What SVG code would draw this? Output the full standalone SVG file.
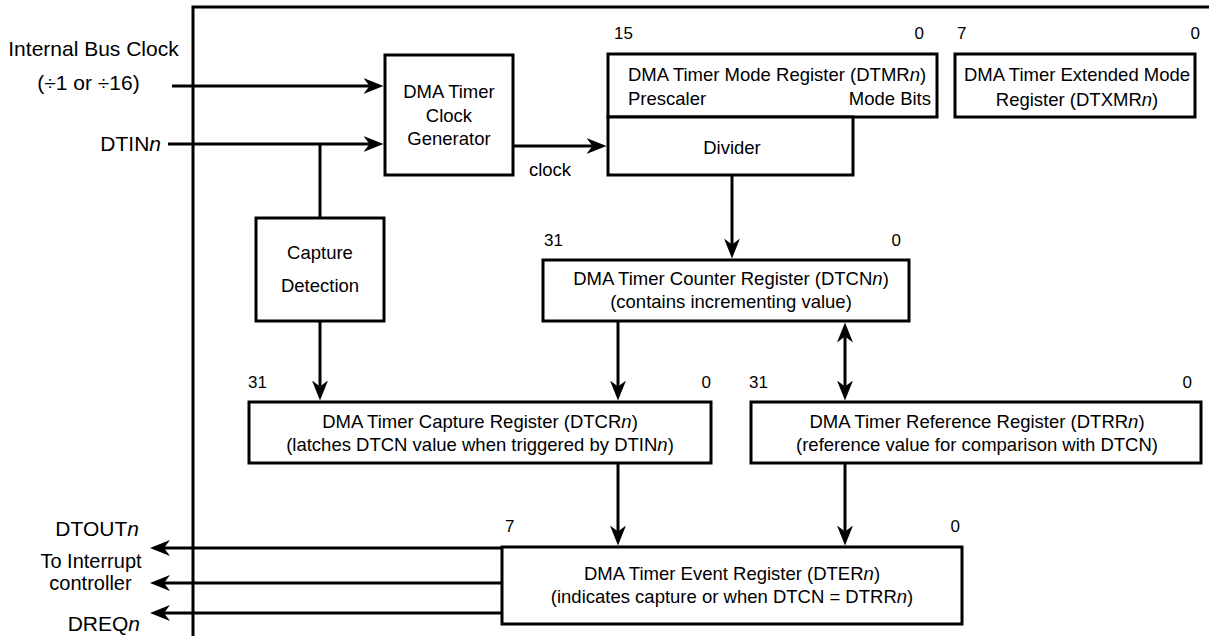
<svg xmlns="http://www.w3.org/2000/svg" width="1209" height="636" viewBox="0 0 1209 636">
<style>
  .box { fill: #ffffff; stroke: #000000; stroke-width: 3; }
  .ln { fill: none; stroke: #000000; stroke-width: 3; }
  .arr { fill: none; stroke: #000000; stroke-width: 3; marker-end: url(#ah); }
  .dbl { fill: none; stroke: #000000; stroke-width: 3; marker-end: url(#ah); marker-start: url(#ahs); }
  text { font-family: "Liberation Sans", Arial, Helvetica, sans-serif; fill: #000000; }
  .t { font-size: 18.5px; text-anchor: middle; }
  .lbl { font-size: 21px; text-anchor: middle; }
  .lbl2 { font-size: 20px; text-anchor: middle; }
  .bit { font-size: 17px; }
  .i { font-style: italic; }
</style>
<defs>
  <marker id="ah" viewBox="0 0 20 16" refX="6" refY="8" markerWidth="20" markerHeight="16" markerUnits="userSpaceOnUse" orient="auto">
    <path d="M20,8 L0,0 L6,8 L0,16 Z" fill="#000000"/>
  </marker>
  <marker id="ahs" viewBox="0 0 20 16" refX="6" refY="8" markerWidth="20" markerHeight="16" markerUnits="userSpaceOnUse" orient="auto-start-reverse">
    <path d="M20,8 L0,0 L6,8 L0,16 Z" fill="#000000"/>
  </marker>
</defs>

<g id="frame">
  <path class="ln" d="M193,636 L193,7 L1209,7"/>
</g>

<g id="connectors">
  <line class="arr" x1="172" y1="86" x2="369.5" y2="86"/>
  <line class="arr" x1="168" y1="144" x2="369.5" y2="144"/>
  <line class="ln" x1="320" y1="144" x2="320" y2="218"/>
  <line class="arr" x1="513" y1="146" x2="592.5" y2="146"/>
  <line class="arr" x1="732" y1="175" x2="732" y2="244.5"/>
  <line class="arr" x1="320" y1="321" x2="320" y2="386.5"/>
  <line class="arr" x1="618" y1="321" x2="618" y2="386.5"/>
  <line class="dbl" x1="845" y1="336.5" x2="845" y2="386.5"/>
  <line class="arr" x1="618" y1="463" x2="618" y2="531.5"/>
  <line class="arr" x1="845" y1="463" x2="845" y2="531.5"/>
  <line class="arr" x1="502" y1="548" x2="164" y2="548"/>
  <line class="arr" x1="502" y1="583" x2="164" y2="583"/>
  <line class="arr" x1="502" y1="613" x2="164" y2="613"/>
</g>

<g id="labels">
  <text class="lbl" x="93.5" y="56">Internal Bus Clock</text>
  <text class="lbl" x="88.5" y="90">(÷1 or ÷16)</text>
  <text class="lbl" x="161" y="151" style="text-anchor:end">DTIN<tspan class="i">n</tspan></text>
  <text class="t" x="550" y="176">clock</text>
  <text class="lbl" x="139" y="536" style="text-anchor:end">DTOUT<tspan class="i">n</tspan></text>
  <text class="lbl2" x="91" y="568">To Interrupt</text>
  <text class="lbl2" x="90.5" y="590">controller</text>
  <text class="lbl" x="140" y="631" style="text-anchor:end">DREQ<tspan class="i">n</tspan></text>
</g>

<g id="clock-generator">
  <rect class="box" x="385" y="55" width="128" height="120"/>
  <text class="t" x="449" y="98">DMA Timer</text>
  <text class="t" x="449" y="122">Clock</text>
  <text class="t" x="449" y="145">Generator</text>
</g>

<g id="dtmr">
  <rect class="box" x="608" y="54" width="329" height="63"/>
  <text class="bit" x="614" y="39">15</text>
  <text class="bit" x="924" y="39" style="text-anchor:end">0</text>
  <text class="t" x="628" y="81" style="text-anchor:start">DMA Timer Mode Register (DTMR<tspan class="i">n</tspan>)</text>
  <text class="t" x="628" y="105" style="text-anchor:start">Prescaler</text>
  <text class="t" x="931" y="105" style="text-anchor:end">Mode Bits</text>
</g>

<g id="divider">
  <rect class="box" x="608" y="117" width="245" height="58"/>
  <text class="t" x="732" y="154">Divider</text>
</g>

<g id="dtxmr">
  <rect class="box" x="955" y="54" width="240" height="63"/>
  <text class="bit" x="957" y="39">7</text>
  <text class="bit" x="1200" y="39" style="text-anchor:end">0</text>
  <text class="t" x="1077" y="81">DMA Timer Extended Mode</text>
  <text class="t" x="1077" y="106">Register (DTXMR<tspan class="i">n</tspan>)</text>
</g>

<g id="capture-detection">
  <rect class="box" x="256" y="218" width="128" height="103"/>
  <text class="t" x="320" y="259">Capture</text>
  <text class="t" x="320" y="292">Detection</text>
</g>

<g id="dtcn">
  <rect class="box" x="543" y="260" width="366" height="61"/>
  <text class="bit" x="544" y="246">31</text>
  <text class="bit" x="901" y="246" style="text-anchor:end">0</text>
  <text class="t" x="731" y="285">DMA Timer Counter Register (DTCN<tspan class="i">n</tspan>)</text>
  <text class="t" x="731" y="308">(contains incrementing value)</text>
</g>

<g id="dtcr">
  <rect class="box" x="249" y="402" width="462" height="61"/>
  <text class="bit" x="248" y="388">31</text>
  <text class="bit" x="711" y="388" style="text-anchor:end">0</text>
  <text class="t" x="480" y="427.5">DMA Timer Capture Register (DTCR<tspan class="i">n</tspan>)</text>
  <text class="t" x="480" y="450.5">(latches DTCN value when triggered by DTIN<tspan class="i">n</tspan>)</text>
</g>

<g id="dtrr">
  <rect class="box" x="751" y="402" width="450" height="61"/>
  <text class="bit" x="749" y="388">31</text>
  <text class="bit" x="1192" y="388" style="text-anchor:end">0</text>
  <text class="t" x="977" y="427.5">DMA Timer Reference Register (DTRR<tspan class="i">n</tspan>)</text>
  <text class="t" x="977" y="450.5">(reference value for comparison with DTCN)</text>
</g>

<g id="dter">
  <rect class="box" x="502" y="547" width="460" height="77"/>
  <text class="bit" x="505" y="532">7</text>
  <text class="bit" x="960" y="532" style="text-anchor:end">0</text>
  <text class="t" x="732" y="580">DMA Timer Event Register (DTER<tspan class="i">n</tspan>)</text>
  <text class="t" x="732" y="603">(indicates capture or when DTCN = DTRR<tspan class="i">n</tspan>)</text>
</g>
</svg>
